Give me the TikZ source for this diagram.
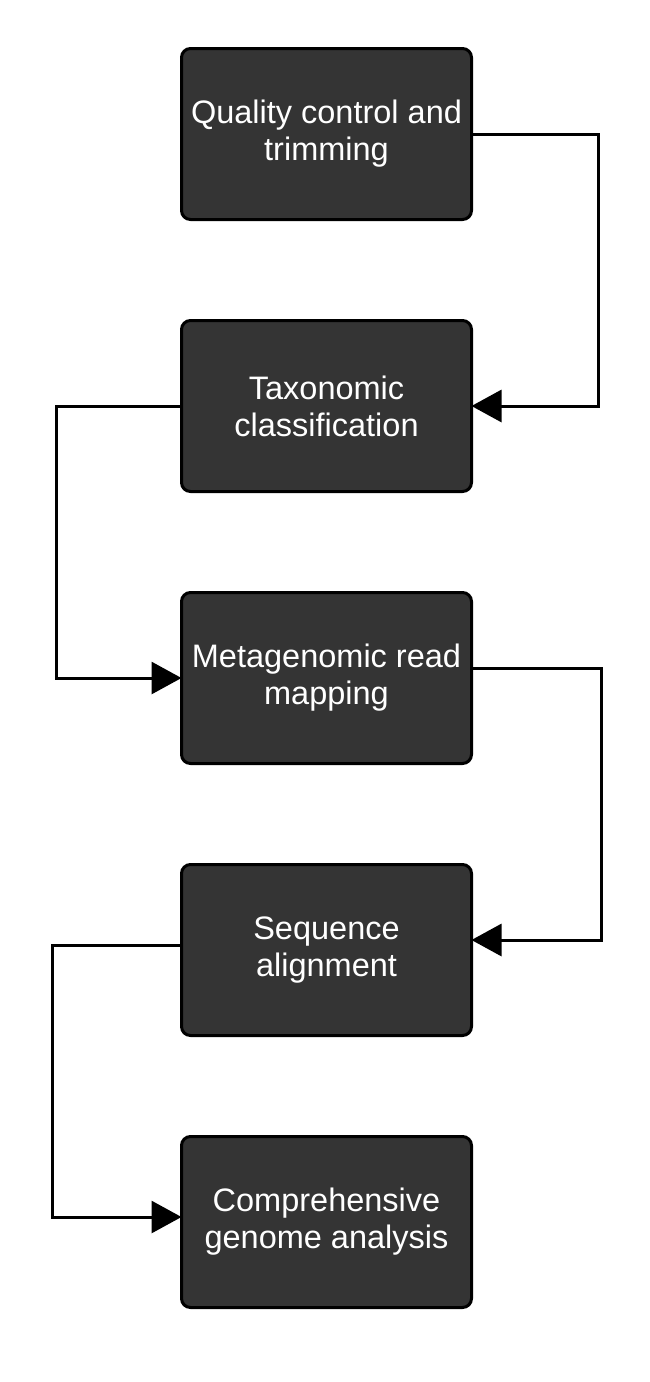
\documentclass[tikz,border=0pt]{standalone}
\usepackage{fontspec}
\setmainfont{Liberation Sans}
\usepackage{tikz}
\usetikzlibrary{positioning, arrows.meta}
\definecolor{boxgray}{RGB}{52,52,52}

\begin{document}
\begin{tikzpicture}[x=1pt, y=-1pt, node distance=101pt,
    stage/.style={draw=black, line width=3pt, fill=boxgray, text=white, rounded corners=9pt,
      outer sep=0pt, minimum width=290pt, minimum height=171pt, align=center,
      font=\fontsize{32.5}{37}\selectfont},
    arr/.style={-{Triangle[length=30pt, width=32pt]}, line width=3pt}]
  \useasboundingbox (0,0) rectangle (650,1382);
  \node[stage] (qc) at (326.5,134) {Quality control and\\trimming};
  \node[stage, below=of qc] (tax) {Taxonomic\\classification};
  \node[stage, below=of tax] (map) {Metagenomic read\\mapping};
  \node[stage, below=of map] (aln) {Sequence\\alignment};
  \node[stage, below=of aln] (gen) {Comprehensive\\genome analysis};

  \path[arr]
    (qc.east) edge[to path={-- ++(126.5,0) |- (\tikztotarget)}] (tax.east)
    (tax.west) edge[to path={-- ++(-125.5,0) |- (\tikztotarget)}] (map.west)
    ([yshift=10pt]map.east) edge[to path={-- ++(130,0) |- (\tikztotarget)}] ([yshift=10pt]aln.east)
    ([yshift=5pt]aln.west) edge[to path={-- ++(-129.5,0) |- (\tikztotarget)}] ([yshift=5pt]gen.west);
\end{tikzpicture}
\end{document}
